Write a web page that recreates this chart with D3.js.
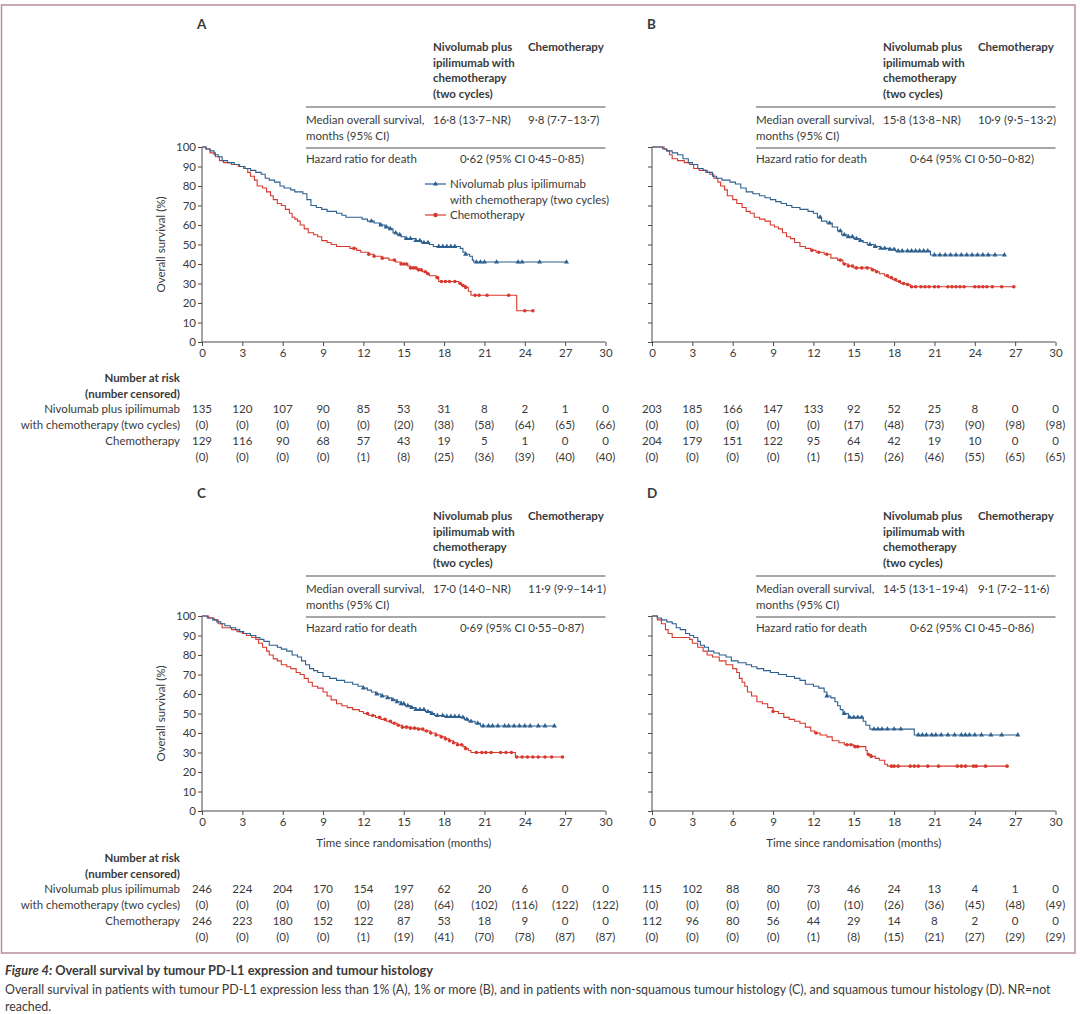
<!DOCTYPE html>
<html><head><meta charset="utf-8">
<script src="https://cdn.jsdelivr.net/npm/d3@7"></script>
<style>
html,body{margin:0;padding:0;background:#fff;}
svg text{font-family:Lato,"Open Sans",sans-serif;fill:#3a3a3a;}
</style></head>
<body>
<svg id="chart" width="1080" height="1014"></svg>
<script>
// ---------- DATA ----------
const timeTicks = [0,3,6,9,12,15,18,21,24,27,30];
const survTicks = [0,10,20,30,40,50,60,70,80,90,100];

// Kaplan–Meier steps: [month, survival %]
const A_nivo = [[0,100],[0.3,99],[0.6,98],[0.9,96],[1.2,95],[1.5,93],[1.9,92],[2.4,91],[2.8,90],[3.2,89],[3.6,88],[4.0,87],[4.4,86],[4.7,84],[5.0,83],[5.4,82],[5.8,80],[6.1,79],[6.6,78],[6.9,77],[7.5,76],[7.8,73],[8.1,70],[8.5,69],[8.9,68],[9.3,67],[10.0,66],[10.4,65],[10.7,64],[11.9,63],[12.3,62],[12.8,61],[13.2,60],[13.6,59],[13.9,58],[14.2,56],[14.5,55],[14.8,54],[15.1,53],[15.9,52],[16.3,51],[16.9,50],[17.2,49],[19.2,48],[19.4,46],[19.6,45],[19.9,44],[20.1,42],[20.2,41],[27.1,41]];
const A_chemo = [[0,100],[0.3,99],[0.6,97],[1.0,95],[1.3,93],[1.6,92],[2.2,91],[2.7,90],[3.1,89],[3.4,87],[3.6,85],[3.9,83],[4.1,80],[4.5,79],[4.8,77],[5.1,75],[5.3,73],[5.6,71],[5.9,70],[6.2,68],[6.5,66],[6.7,64],[6.9,63],[7.1,62],[7.3,60],[7.6,58],[7.9,56],[8.3,55],[8.6,54],[8.9,52],[9.3,51],[9.6,50],[10.0,49],[11.0,48],[11.5,47],[11.8,46],[12.4,45],[12.8,44],[13.4,43],[13.9,42],[14.4,41],[14.8,40],[15.3,39],[15.5,38],[16.0,37],[16.4,36],[16.7,35],[16.9,34],[17.4,33],[17.6,31],[19.1,30],[19.3,29],[19.6,28],[19.8,26],[20.0,24],[23.4,16],[24.6,16]];
const B_nivo = [[0,100],[0.8,99],[1.1,98],[1.5,97],[1.9,96],[2.3,94],[2.7,92],[3.0,91],[3.4,89],[3.8,88],[4.1,87],[4.5,85],[4.8,84],[5.2,83],[5.8,82],[6.2,81],[6.6,79],[7.0,77],[7.5,76],[8.0,75],[8.4,74],[8.8,73],[9.2,72],[9.6,71],[10.0,70],[10.4,69],[11.0,68],[11.6,67],[12.0,66],[12.3,64],[12.6,62],[13.0,61],[13.4,59],[13.8,57],[14.1,55],[14.5,54],[15.0,53],[15.4,52],[15.7,51],[16.0,50],[16.5,49],[17.0,48],[17.6,47.5],[18.1,46.7],[20.7,44.6],[26.2,44.6]];
const B_chemo = [[0,100],[0.9,99],[1.1,98],[1.3,96],[1.5,94],[1.9,93],[2.4,92],[2.8,91],[3.1,89],[3.5,88],[4.0,87],[4.3,86],[4.6,84],[4.9,82],[5.1,80],[5.4,78],[5.6,75],[6.0,73],[6.3,71],[6.7,69],[7.0,67],[7.3,66],[7.6,64],[8.0,63],[8.4,62],[8.8,60],[9.1,59],[9.4,58],[9.7,56],[10.0,54],[10.3,53],[10.6,51],[11.0,49],[11.4,48],[11.8,47],[12.2,46],[12.8,45],[13.3,43],[13.8,42],[14.2,40],[14.6,39],[15.0,38],[16.3,37],[16.6,36],[16.9,35],[17.3,34],[17.6,33],[17.9,32],[18.2,31],[18.5,30],[18.9,29.5],[19.2,28.3],[26.9,28.3]];
const C_nivo = [[0,100],[0.4,99],[0.8,98],[1.1,97],[1.4,96],[1.7,95],[2.1,94],[2.5,93],[2.8,92],[3.1,91],[3.6,90],[4.0,89],[4.3,88],[4.6,87],[5.0,85],[5.6,84],[5.9,83],[6.3,82],[6.7,80],[7.1,79],[7.4,77],[7.7,75],[8.0,73],[8.3,72],[8.6,71],[9.0,69],[9.5,68],[10.0,67],[10.6,66],[11.2,65],[11.6,64],[12.0,63],[12.3,62],[12.6,61],[12.9,60],[13.3,59],[13.8,58],[14.1,57],[14.5,56],[14.8,55],[15.1,54],[15.5,53],[15.9,52],[16.6,51],[17.0,50],[17.3,49],[18.0,48.5],[19.2,48],[19.5,47],[19.8,46],[20.3,45],[20.7,43.6],[26.2,43.6]];
const C_chemo = [[0,100],[0.5,99],[0.9,98],[1.2,96],[1.5,94],[2.2,93],[2.6,92],[3.0,91],[3.3,90],[3.7,89],[4.0,88],[4.2,86],[4.5,84],[4.8,82],[5.0,80],[5.3,78],[5.6,77],[5.9,75],[6.3,74],[6.6,73],[7.0,71],[7.3,70],[7.6,68],[7.9,66],[8.2,64],[8.6,63],[9.0,61],[9.3,59],[9.6,57],[10.0,55],[10.4,54],[10.8,53],[11.2,52],[11.7,51],[12.0,50],[12.4,49],[12.9,48],[13.3,47],[13.7,46],[14.1,45],[14.5,44],[14.9,43],[15.5,42.5],[16.0,42],[16.5,41],[17.0,40],[17.4,39],[17.7,38],[18.1,37],[18.4,36],[18.7,35],[19.0,34],[19.4,33],[19.6,32],[19.8,31],[20.0,30],[23.3,27.7],[26.8,27.7]];
const D_nivo = [[0,100],[0.4,99],[0.7,98],[1.1,97],[1.5,96],[1.8,94],[2.1,93],[2.5,91],[2.8,90],[3.1,89],[3.4,87],[3.6,85],[3.9,84],[4.2,82],[4.6,81],[5.0,80],[5.5,79],[5.9,77],[6.4,76],[7.0,75],[7.4,74],[7.8,73],[8.3,72],[8.8,71],[9.4,70],[10.0,69],[10.6,68],[11.0,67],[11.4,65],[12.0,64],[12.4,63],[12.8,61],[13.0,59],[13.3,58],[13.6,56],[13.8,54],[14.0,52],[14.2,50],[14.6,48],[15.7,46],[15.9,44],[16.2,42],[19.5,39],[27.2,39]];
const D_chemo = [[0,100],[0.4,98],[0.7,96],[1.0,93],[1.2,91],[1.5,89],[2.8,88],[3.0,86],[3.4,84],[3.8,82],[4.1,80],[4.5,79],[5.0,77],[5.5,75],[6.0,73],[6.3,71],[6.5,68],[6.7,66],[6.9,64],[7.1,61],[7.4,59],[7.8,56],[8.2,55],[8.6,53],[9.0,51],[9.4,50],[9.8,48],[10.2,47],[10.6,46],[11.0,45],[11.4,43],[11.8,41],[12.1,40],[12.5,39],[13.0,38],[13.4,36],[13.9,35],[14.3,34],[15.0,33],[15.9,31],[16.0,29],[16.3,28],[16.6,27],[16.9,26],[17.3,24],[17.5,23],[26.4,23]];

// Censoring times (months)
const A_nivo_cens = [12.6,13.3,13.7,14.0,14.4,14.7,15.2,15.5,15.9,16.2,16.5,16.8,17.6,17.9,18.2,18.5,18.8,19.6,20.4,20.7,21.0,21.9,23.5,23.8,25.1,27.1];
const A_chemo_cens = [11.3,12.4,12.8,13.4,14.3,14.8,15.0,15.2,15.5,15.7,15.9,16.1,16.3,16.6,16.8,17.5,17.8,18.1,18.4,18.8,19.2,19.4,19.6,20.3,20.6,21.2,22.8,24.0,24.6];
const B_nivo_cens = [12.5,13.2,14.0,14.3,14.6,14.9,15.2,15.5,16.2,16.6,17.0,17.3,17.7,18.0,18.3,18.6,19.0,19.3,19.6,19.9,20.2,20.5,21.0,21.4,21.8,22.2,22.6,23.0,23.4,23.8,24.2,24.6,25.0,25.5,26.2];
const B_chemo_cens = [11.9,12.4,13.0,14.0,14.3,14.6,14.9,15.2,15.6,16.0,16.4,16.7,17.5,17.8,18.1,18.4,18.7,19.0,19.3,19.6,20.0,20.3,20.6,21.0,21.3,22.0,22.3,22.6,22.9,23.2,24.0,24.3,24.6,24.9,25.3,26.0,26.9];
const C_nivo_cens = [12.0,13.0,13.4,13.8,14.2,14.5,14.8,15.0,15.3,15.6,15.9,16.2,16.5,16.8,17.1,17.5,17.9,18.2,18.5,18.8,19.1,19.4,19.7,20.0,20.5,20.9,21.3,21.6,22.0,22.5,22.8,23.2,23.6,24.0,24.4,25.0,25.5,26.2];
const C_chemo_cens = [12.3,12.7,13.2,13.6,14.0,14.3,14.6,14.9,15.2,15.5,15.8,16.1,16.4,16.7,17.0,17.4,17.8,18.1,18.4,18.7,19.0,19.3,19.6,20.4,20.8,21.1,21.5,22.2,22.6,23.0,23.4,23.8,24.2,24.6,25.0,25.5,26.0,26.8];
const D_nivo_cens = [13.0,14.3,14.7,15.0,15.3,15.6,16.5,16.8,17.1,17.5,18.0,18.5,19.8,20.1,20.4,20.8,21.1,21.5,22.0,22.5,23.0,23.3,23.6,24.0,24.5,25.2,26.0,27.2];
const D_chemo_cens = [9.0,12.2,14.5,14.8,15.1,15.3,16.1,16.3,17.8,18.0,18.3,19.2,19.5,19.8,20.5,21.3,22.7,23.0,23.3,23.9,24.1,24.8,26.4];

// Number at risk / censored
const A_nivo_risk = [135,120,107,90,85,53,31,8,2,1,0];
const A_nivo_censN = [0,0,0,0,0,20,38,58,64,65,66];
const A_chemo_risk = [129,116,90,68,57,43,19,5,1,0,0];
const A_chemo_censN = [0,0,0,0,1,8,25,36,39,40,40];
const B_nivo_risk = [203,185,166,147,133,92,52,25,8,0,0];
const B_nivo_censN = [0,0,0,0,0,17,48,73,90,98,98];
const B_chemo_risk = [204,179,151,122,95,64,42,19,10,0,0];
const B_chemo_censN = [0,0,0,0,1,15,26,46,55,65,65];
const C_nivo_risk = [246,224,204,170,154,197,62,20,6,0,0];
const C_nivo_censN = [0,0,0,0,0,28,64,102,116,122,122];
const C_chemo_risk = [246,223,180,152,122,87,53,18,9,0,0];
const C_chemo_censN = [0,0,0,0,1,19,41,70,78,87,87];
const D_nivo_risk = [115,102,88,80,73,46,24,13,4,1,0];
const D_nivo_censN = [0,0,0,0,0,10,26,36,45,48,49];
const D_chemo_risk = [112,96,80,56,44,29,14,8,2,0,0];
const D_chemo_censN = [0,0,0,0,1,8,15,21,27,29,29];

// Summary table values
const medianNivo = ["16·8 (13·7–NR)", "15·8 (13·8–NR)", "17·0 (14·0–NR)", "14·5 (13·1–19·4)"];
const medianChemo = ["9·8 (7·7–13·7)", "10·9 (9·5–13·2)", "11·9 (9·9–14·1)", "9·1 (7·2–11·6)"];
const hazardRatio = ["0·62 (95% CI 0·45–0·85)", "0·64 (95% CI 0·50–0·82)", "0·69 (95% CI 0·55–0·87)", "0·62 (95% CI 0·45–0·86)"];
const panelLetters = ["A","B","C","D"];

// ---------- DRAW ----------
const BLUE = "#2d5f8f", RED = "#d7392e", AX = "#4a4a4a";
const svg = d3.select("#chart");

svg.append("rect").attr("x",1.5).attr("y",5).attr("width",1073.5).attr("height",948)
  .attr("fill","none").attr("stroke","#b98c9c").attr("stroke-width",1.5);

const panels = [
  {ox:202, oy:147, nivo:A_nivo, chemo:A_chemo, nc:A_nivo_cens, cc:A_chemo_cens, nr:A_nivo_risk, ncn:A_nivo_censN, cr:A_chemo_risk, ccn:A_chemo_censN, yLab:true, xLab:false, legend:true, riskY:378},
  {ox:652, oy:147, nivo:B_nivo, chemo:B_chemo, nc:B_nivo_cens, cc:B_chemo_cens, nr:B_nivo_risk, ncn:B_nivo_censN, cr:B_chemo_risk, ccn:B_chemo_censN, yLab:false, xLab:false, legend:false, riskY:378},
  {ox:202, oy:616, nivo:C_nivo, chemo:C_chemo, nc:C_nivo_cens, cc:C_chemo_cens, nr:C_nivo_risk, ncn:C_nivo_censN, cr:C_chemo_risk, ccn:C_chemo_censN, yLab:true, xLab:true, legend:false, riskY:858},
  {ox:652, oy:616, nivo:D_nivo, chemo:D_chemo, nc:D_nivo_cens, cc:D_chemo_cens, nr:D_nivo_risk, ncn:D_nivo_censN, cr:D_chemo_risk, ccn:D_chemo_censN, yLab:false, xLab:true, legend:false, riskY:858}
];

const W = 403.5, H = 195, FS = 11.5;
const bis = d3.bisector(d => d[0]).right;
function survAt(arr, t){ const i = bis(arr, t) - 1; return arr[Math.max(0,i)][1]; }

panels.forEach((p, idx) => {
  const x = d3.scaleLinear().domain([0,30]).range([p.ox, p.ox + W]);
  const y = d3.scaleLinear().domain([0,100]).range([p.oy + H, p.oy]);
  const g = svg.append("g");

  g.append("text").attr("x", p.ox - 5).attr("y", p.oy - 118).attr("font-size", 13.5).attr("font-weight","bold")
    .attr("fill","#222").text(panelLetters[idx]);

  const xa = g.append("g").attr("transform", `translate(0,${p.oy + H})`)
    .call(d3.axisBottom(x).tickValues(timeTicks).tickSize(4).tickPadding(3).tickFormat(d3.format("d")));
  const ya = g.append("g").attr("transform", `translate(${p.ox},0)`)
    .call(d3.axisLeft(y).tickValues(survTicks).tickSize(4).tickPadding(2).tickFormat(p.yLab ? d3.format("d") : ""));
  [xa, ya].forEach(a => {
    a.select(".domain").remove();
    a.selectAll(".tick line").attr("stroke", AX);
    a.selectAll(".tick text").attr("font-size", FS).attr("fill", "#3a3a3a").attr("font-family","Lato,sans-serif");
  });
  g.append("line").attr("x1", p.ox).attr("x2", p.ox + W).attr("y1", p.oy + H).attr("y2", p.oy + H).attr("stroke", AX);
  g.append("line").attr("x1", p.ox).attr("x2", p.ox).attr("y1", p.oy).attr("y2", p.oy + H).attr("stroke", AX);

  if (p.yLab) {
    g.append("text").attr("transform", `translate(${p.ox - 41},${p.oy + H/2}) rotate(-90)`)
      .attr("text-anchor","middle").attr("dy","0.35em").attr("font-size",FS).text("Overall survival (%)");
  }
  if (p.xLab) {
    g.append("text").attr("x", p.ox + W/2).attr("y", p.oy + H + 36).attr("text-anchor","middle")
      .attr("font-size",FS).text("Time since randomisation (months)");
  }

  const line = d3.line().x(d => x(d[0])).y(d => y(d[1])).curve(d3.curveStepAfter);
  g.append("path").datum(p.chemo).attr("d", line).attr("fill","none").attr("stroke", RED).attr("stroke-width",1.1);
  g.append("path").datum(p.nivo).attr("d", line).attr("fill","none").attr("stroke", BLUE).attr("stroke-width",1.1);

  g.selectAll(null).data(p.cc).enter().append("circle")
    .attr("cx", t => x(t)).attr("cy", t => y(survAt(p.chemo, t))).attr("r", 1.8).attr("fill", RED);
  const tri = d3.symbol().type(d3.symbolTriangle).size(11);
  g.selectAll(null).data(p.nc).enter().append("path").attr("d", tri)
    .attr("transform", t => `translate(${x(t)},${y(survAt(p.nivo, t))})`).attr("fill", BLUE);

  // summary table
  const tx = p.ox + 104, c1 = p.ox + 231, c2 = p.ox + 326;
  const hdr = ["Nivolumab plus","ipilimumab with","chemotherapy","(two cycles)"];
  hdr.forEach((s,i) => g.append("text").attr("x", c1).attr("y", p.oy - 96 + i*15.5).attr("font-size",FS)
    .attr("font-weight","bold").attr("fill","#2a2a2a").text(s));
  g.append("text").attr("x", c2).attr("y", p.oy - 96).attr("font-size",FS).attr("font-weight","bold").attr("fill","#2a2a2a").text("Chemotherapy");
  g.append("line").attr("x1", tx).attr("x2", p.ox + W).attr("y1", p.oy - 40).attr("y2", p.oy - 40).attr("stroke","#8a8a8a").attr("stroke-width",1.6);
  g.append("text").attr("x", tx).attr("y", p.oy - 23).attr("font-size",FS).text("Median overall survival,");
  g.append("text").attr("x", tx).attr("y", p.oy - 7).attr("font-size",FS).text("months (95% CI)");
  g.append("text").attr("x", c1).attr("y", p.oy - 23).attr("font-size",FS).text(medianNivo[idx]);
  g.append("text").attr("x", c2).attr("y", p.oy - 23).attr("font-size",FS).text(medianChemo[idx]);
  g.append("line").attr("x1", tx).attr("x2", p.ox + W).attr("y1", p.oy + 1).attr("y2", p.oy + 1).attr("stroke","#8a8a8a").attr("stroke-width",1.6);
  g.append("text").attr("x", tx).attr("y", p.oy + 16).attr("font-size",FS).text("Hazard ratio for death");
  g.append("text").attr("x", p.ox + 320).attr("y", p.oy + 16).attr("font-size",FS).attr("text-anchor","middle").text(hazardRatio[idx]);

  if (p.legend) {
    const lx = p.ox + 223, ly = p.oy + 37;
    g.append("line").attr("x1", lx).attr("x2", lx + 21).attr("y1", ly).attr("y2", ly).attr("stroke", BLUE).attr("stroke-width",1.2);
    g.append("path").attr("d", tri).attr("transform", `translate(${lx+10.5},${ly})`).attr("fill", BLUE);
    g.append("text").attr("x", lx + 25).attr("y", ly).attr("dy","0.35em").attr("font-size",FS).text("Nivolumab plus ipilimumab");
    g.append("text").attr("x", lx + 25).attr("y", ly + 15.5).attr("dy","0.35em").attr("font-size",FS).text("with chemotherapy (two cycles)");
    g.append("line").attr("x1", lx).attr("x2", lx + 21).attr("y1", ly + 31).attr("y2", ly + 31).attr("stroke", RED).attr("stroke-width",1.2);
    g.append("circle").attr("cx", lx + 10.5).attr("cy", ly + 31).attr("r", 2.2).attr("fill", RED);
    g.append("text").attr("x", lx + 25).attr("y", ly + 31).attr("dy","0.35em").attr("font-size",FS).text("Chemotherapy");
  }

  // risk table
  const r0 = p.riskY, sp = 15.7;
  if (idx % 2 === 0) {
    const lab = [["Number at risk", true],["(number censored)", true],["Nivolumab plus ipilimumab", false],["with chemotherapy (two cycles)", false],["Chemotherapy", false]];
    lab.forEach((l,i) => g.append("text").attr("x", 180).attr("y", r0 + i*sp).attr("dy","0.35em").attr("text-anchor","end")
      .attr("font-size",FS).attr("font-weight", l[1] ? "bold" : "normal").attr("fill", l[1] ? "#2a2a2a" : "#3a3a3a").text(l[0]));
  }
  const rows = [[p.nr, false],[p.ncn, true],[p.cr, false],[p.ccn, true]];
  rows.forEach((r,ri) => {
    g.selectAll(null).data(r[0]).enter().append("text")
      .attr("x", (d,i) => x(timeTicks[i])).attr("y", r0 + (2+ri)*sp).attr("dy","0.35em")
      .attr("text-anchor","middle").attr("font-size",FS).attr("fill","#4a4a4a")
      .text(d => r[1] ? `(${d})` : d);
  });
});

// caption
const cap = svg.append("text").attr("x", 5).attr("y", 975).attr("font-size", 12.8).attr("font-weight","bold").attr("fill","#2a2a2a");
cap.append("tspan").attr("font-style","italic").text("Figure 4: ");
cap.append("tspan").text("Overall survival by tumour PD-L1 expression and tumour histology");
svg.append("text").attr("x", 5).attr("y", 994).attr("font-size", 12.4).attr("fill","#555")
  .text("Overall survival in patients with tumour PD-L1 expression less than 1% (A), 1% or more (B), and in patients with non-squamous tumour histology (C), and squamous tumour histology (D). NR=not");
svg.append("text").attr("x", 5).attr("y", 1011).attr("font-size", 12.4).attr("fill","#555").text("reached.");
</script>
</body></html>
